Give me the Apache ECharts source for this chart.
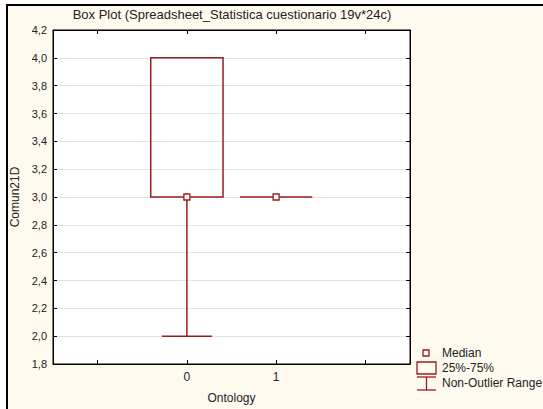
<!DOCTYPE html>
<html>
<head>
<meta charset="utf-8">
<script src="https://cdn.jsdelivr.net/npm/echarts@6/dist/echarts.min.js"></script>
<style>
html,body{margin:0;padding:0;background:#fff;}
#bg{position:absolute;left:6px;top:4px;width:537px;height:405px;background:#fffaee;border-top:2px solid #000;border-left:2px solid #000;box-sizing:border-box;}
#c{position:absolute;left:0;top:0;width:543px;height:409px;}
</style>
</head>
<body>
<div id="bg"></div>
<div id="c"></div>
<script>
// ---- data ----
const titleText = 'Box Plot (Spreadsheet_Statistica cuestionario 19v*24c)';
const categories = ['0', '1'];
const minValues = [2.0, 3.0];
const q1Values = [3.0, 3.0];
const medianValues = [3.0, 3.0];
const q3Values = [4.0, 3.0];
const maxValues = [4.0, 3.0];
const yMin = 1.8, yMax = 4.2, yStep = 0.2;
const xName = 'Ontology';
const yName = 'Comun21D';
const legendLabels = ['Median', '25%-75%', 'Non-Outlier Range'];

// ---- build ----
const axisCats = [''].concat(categories, ['']);
const RED = '#9b1c1c';
const FONT = 'Liberation Sans, Arial, sans-serif';
const data = categories.map((c, i) => [i + 1, minValues[i], q1Values[i], medianValues[i], q3Values[i], maxValues[i]]);

function renderItem(params, api) {
  const xi = api.value(0);
  const band = api.size([1, 0])[0];
  const boxW = band * 0.81, capW = band * 0.56;
  const pMin = api.coord([xi, api.value(1)]);
  const pQ1 = api.coord([xi, api.value(2)]);
  const pMed = api.coord([xi, api.value(3)]);
  const pQ3 = api.coord([xi, api.value(4)]);
  const pMax = api.coord([xi, api.value(5)]);
  const cx = pMed[0];
  const ls = {stroke: RED, lineWidth: 1.5, fill: null};
  const ch = [];
  if (pQ1[1] - pQ3[1] > 0.5) {
    ch.push({type: 'rect', shape: {x: cx - boxW / 2, y: pQ3[1], width: boxW, height: pQ1[1] - pQ3[1]}, style: {stroke: RED, lineWidth: 1.5, fill: 'transparent'}});
  } else {
    ch.push({type: 'line', shape: {x1: cx - boxW / 2, y1: pQ1[1], x2: cx + boxW / 2, y2: pQ1[1]}, style: ls});
  }
  if (pMin[1] - pQ1[1] > 0.5) {
    ch.push({type: 'line', shape: {x1: cx, y1: pQ1[1], x2: cx, y2: pMin[1]}, style: ls});
    ch.push({type: 'line', shape: {x1: cx - capW / 2, y1: pMin[1], x2: cx + capW / 2, y2: pMin[1]}, style: ls});
  }
  if (pQ3[1] - pMax[1] > 0.5) {
    ch.push({type: 'line', shape: {x1: cx, y1: pQ3[1], x2: cx, y2: pMax[1]}, style: ls});
    ch.push({type: 'line', shape: {x1: cx - capW / 2, y1: pMax[1], x2: cx + capW / 2, y2: pMax[1]}, style: ls});
  }
  ch.push({type: 'rect', shape: {x: cx - 3, y: pMed[1] - 3, width: 6, height: 6}, style: {stroke: RED, lineWidth: 1.3, fill: '#fff'}});
  return {type: 'group', children: ch};
}

const chart = echarts.init(document.getElementById('c'), null, {renderer: 'svg'});
const yAxisBase = {
  type: 'value', min: yMin, max: yMax, interval: yStep,
  axisLine: {show: true, lineStyle: {color: '#000', width: 1}},
  axisTick: {show: true, inside: true, length: 4, lineStyle: {color: '#000'}},
};
const xAxisBase = {
  type: 'category', data: axisCats, boundaryGap: true,
  axisLine: {show: true, lineStyle: {color: '#000', width: 1}},
  axisTick: {show: true, inside: true, length: 4, alignWithLabel: true, interval: 0, lineStyle: {color: '#000'}},
};
const legendX = 417, legendTextX = 442;
chart.setOption({
  backgroundColor: 'transparent',
  animation: false,
  textStyle: {fontFamily: FONT},
  grid: {left: 53, right: 133, top: 30, bottom: 45, show: true, backgroundColor: '#fff', borderColor: '#000', borderWidth: 1},
  xAxis: [
    Object.assign({}, xAxisBase, {
      position: 'bottom', name: xName, nameLocation: 'middle', nameGap: 28,
      nameTextStyle: {fontSize: 12, color: '#222', fontFamily: FONT},
      axisLabel: {fontSize: 12, color: '#222', margin: 7, interval: 0, fontFamily: FONT},
      splitLine: {show: false}
    }),
    Object.assign({}, xAxisBase, {position: 'top', axisLabel: {show: false}, splitLine: {show: false}})
  ],
  yAxis: [
    Object.assign({}, yAxisBase, {
      position: 'left', name: yName, nameLocation: 'middle', nameGap: 31, nameRotate: 90,
      nameTextStyle: {fontSize: 12, color: '#222', fontFamily: FONT},
      axisLabel: {fontSize: 11, color: '#222', margin: 6, fontFamily: FONT,
        formatter: v => v.toFixed(1).replace('.', ',')},
      splitLine: {show: true, lineStyle: {color: '#e3e3e3', width: 1}}
    }),
    Object.assign({}, yAxisBase, {position: 'right', axisLabel: {show: false}, splitLine: {show: false}})
  ],
  series: [{
    type: 'custom', renderItem: renderItem, data: data, xAxisIndex: 0, yAxisIndex: 0,
    encode: {x: 0, y: [1, 2, 3, 4, 5]}, z: 5
  }],
  graphic: [
    {type: 'text', x: 232, y: 14, style: {text: titleText, font: '13px ' + FONT, fill: '#222', textAlign: 'center', textVerticalAlign: 'middle'}},
    {type: 'rect', shape: {x: legendX + 6, y: 350, width: 6, height: 6}, style: {stroke: RED, lineWidth: 1.3, fill: '#fff'}},
    {type: 'rect', shape: {x: legendX, y: 362, width: 19, height: 12}, style: {stroke: RED, lineWidth: 1.3, fill: 'transparent'}},
    {type: 'line', shape: {x1: legendX, y1: 377, x2: legendX + 19, y2: 377}, style: {stroke: RED, lineWidth: 1.3}},
    {type: 'line', shape: {x1: legendX + 9.5, y1: 377, x2: legendX + 9.5, y2: 390}, style: {stroke: RED, lineWidth: 1.3}},
    {type: 'line', shape: {x1: legendX, y1: 390, x2: legendX + 19, y2: 390}, style: {stroke: RED, lineWidth: 1.3}},
    {type: 'text', x: legendTextX, y: 353, style: {text: legendLabels[0], font: '12px ' + FONT, fill: '#222', textVerticalAlign: 'middle'}},
    {type: 'text', x: legendTextX, y: 368, style: {text: legendLabels[1], font: '12px ' + FONT, fill: '#222', textVerticalAlign: 'middle'}},
    {type: 'text', x: legendTextX, y: 383, style: {text: legendLabels[2], font: '12px ' + FONT, fill: '#222', textVerticalAlign: 'middle'}}
  ]
});
</script>
</body>
</html>
